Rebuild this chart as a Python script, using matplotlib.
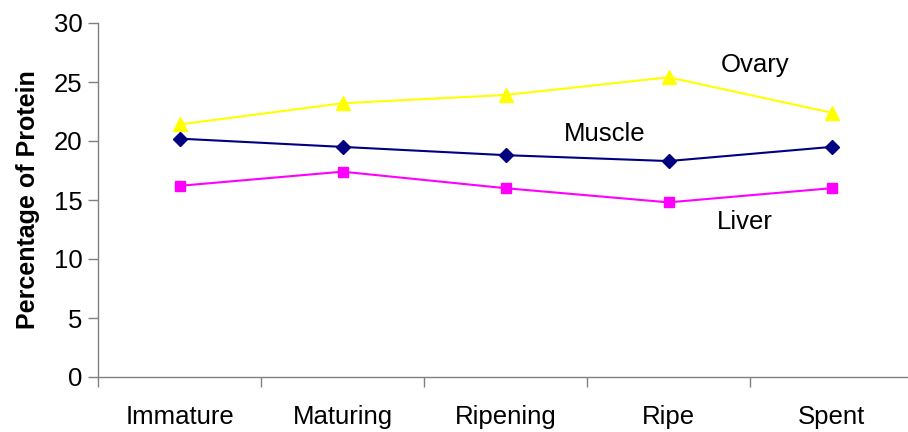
import matplotlib
matplotlib.use("Agg")
import matplotlib.pyplot as plt

stages = ["Immature", "Maturing", "Ripening", "Ripe", "Spent"]
ovary = [21.4, 23.2, 23.9, 25.4, 22.4]
muscle = [20.2, 19.5, 18.8, 18.3, 19.5]
liver = [16.2, 17.4, 16.0, 14.8, 16.0]
yticks = [0, 5, 10, 15, 20, 25, 30]

plt.rcParams["font.family"] = ["Liberation Sans", "DejaVu Sans"]

fig = plt.figure(figsize=(9.08, 4.32), dpi=100)
ax = fig.add_axes([98 / 908, 55 / 432, 815 / 908, 354 / 432])

x = list(range(len(stages)))
ax.plot(x, ovary, color="#FFFF00", lw=1.5, marker="^", ms=10, mec="#FFFF00", mfc="#FFFF00")
ax.plot(x, muscle, color="#000080", lw=1.5, marker="D", ms=7, mec="#000080", mfc="#000080")
ax.plot(x, liver, color="#FF00FF", lw=1.5, marker="s", ms=7.5, mec="#FF00FF", mfc="#FF00FF")

ax.text(3.53, 26.4, "Ovary", fontsize=18.5, ha="center", va="center")
ax.text(2.61, 20.6, "Muscle", fontsize=18.5, ha="center", va="center")
ax.text(3.47, 13.1, "Liver", fontsize=18.5, ha="center", va="center")

ax.set_xlim(-0.5, len(stages) - 0.5)
ax.set_ylim(0, 30)
ax.set_yticks(yticks)
ax.tick_params(axis="y", direction="out", length=7, width=1, color="#808080",
               labelsize=18.5, pad=4)

# category boundaries carry the tick marks, category centres carry the labels
ax.set_xticks([i - 0.5 for i in range(len(stages) + 1)])
ax.set_xticklabels([])
ax.tick_params(axis="x", which="major", direction="out", length=7, width=1, color="#808080")
ax.set_xticks(x, minor=True)
ax.set_xticklabels(stages, minor=True)
ax.tick_params(axis="x", which="minor", length=0, labelsize=18.5, pad=20)

for side in ("top", "right"):
    ax.spines[side].set_visible(False)
for side in ("left", "bottom"):
    ax.spines[side].set_color("#808080")
    ax.spines[side].set_linewidth(1)

ax.set_ylabel("Percentage of Protein", fontsize=18, fontweight="bold", labelpad=10)

fig.savefig("out.png", dpi=100)
